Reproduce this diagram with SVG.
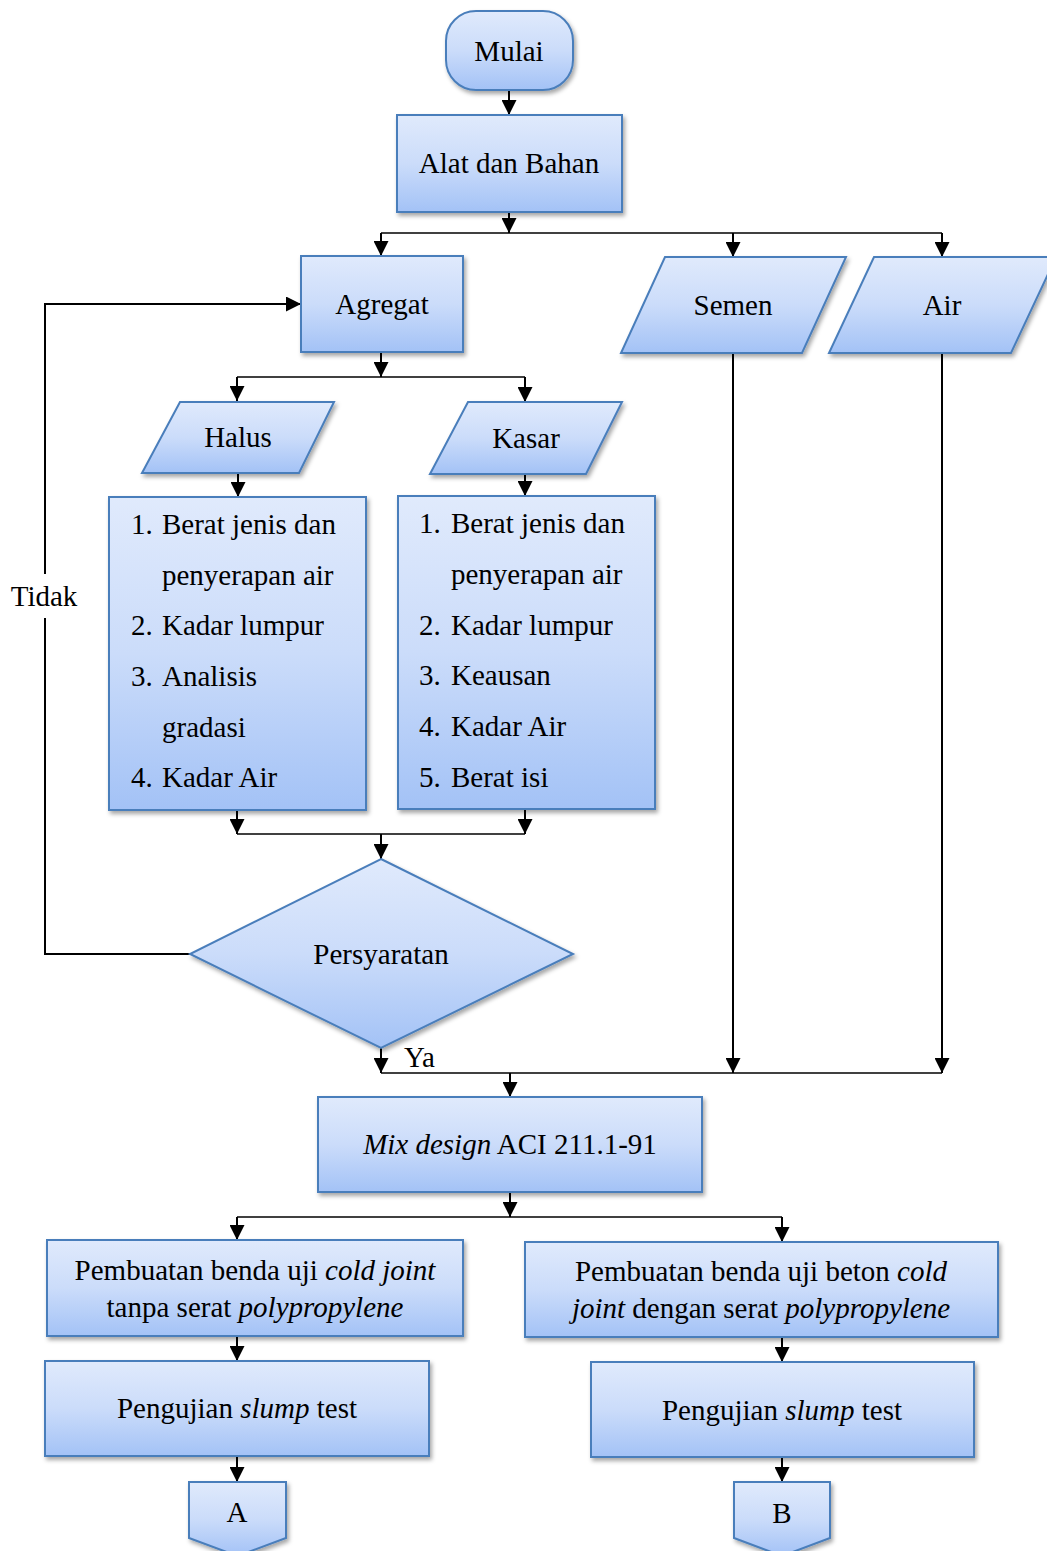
<svg xmlns="http://www.w3.org/2000/svg" width="1047" height="1551" viewBox="0 0 1047 1551">
<defs>
<linearGradient id="g" x1="0" y1="0" x2="0" y2="1">
<stop offset="0" stop-color="#e0eafc"/>
<stop offset="0.5" stop-color="#cbdcfa"/>
<stop offset="1" stop-color="#a3c2f6"/>
</linearGradient>
<filter id="sh" x="-10%" y="-10%" width="125%" height="130%">
<feDropShadow dx="2" dy="3" stdDeviation="2" flood-color="#000" flood-opacity="0.35"/>
</filter>
<marker id="ah" markerUnits="userSpaceOnUse" markerWidth="15" markerHeight="15" viewBox="0 0 15 15" refX="15" refY="7.5" orient="auto">
<path d="M0,0 L15,7.5 L0,15 z" fill="#000"/>
</marker>
<style>
.n{fill:url(#g);stroke:#4a7ebb;stroke-width:2;filter:url(#sh)}
.t{font-family:"Liberation Serif","Times New Roman",serif;font-size:29px;fill:#000}
.c{text-anchor:middle}
.i{font-style:italic}
.l{fill:none;stroke:#000;stroke-width:1.5}
.a{fill:none;stroke:#000;stroke-width:2;marker-end:url(#ah)}
</style>
</defs>

<g id="connectors">
<line class="a" x1="509" y1="90" x2="509" y2="115"/>
<line class="a" x1="509" y1="212" x2="509" y2="233"/>
<line class="l" x1="381" y1="233" x2="942" y2="233"/>
<line class="a" x1="381" y1="233" x2="381" y2="256"/>
<line class="a" x1="733" y1="233" x2="733" y2="257"/>
<line class="a" x1="942" y1="233" x2="942" y2="257"/>
<line class="a" x1="381" y1="352" x2="381" y2="377"/>
<line class="l" x1="237" y1="377" x2="525" y2="377"/>
<line class="a" x1="237" y1="377" x2="237" y2="401"/>
<line class="a" x1="525" y1="377" x2="525" y2="402"/>
<line class="a" x1="238" y1="473" x2="238" y2="497"/>
<line class="a" x1="525" y1="474" x2="525" y2="496"/>
<line class="a" x1="237" y1="810" x2="237" y2="834"/>
<line class="a" x1="525" y1="809" x2="525" y2="834"/>
<line class="l" x1="237" y1="834" x2="525" y2="834"/>
<line class="a" x1="381" y1="834" x2="381" y2="859"/>
<polyline class="a" points="190,954 45,954 45,304 301,304"/>
<line class="a" x1="381" y1="1048" x2="381" y2="1073"/>
<line class="a" x1="733" y1="353" x2="733" y2="1073"/>
<line class="a" x1="942" y1="353" x2="942" y2="1073"/>
<line class="l" x1="381" y1="1073" x2="942" y2="1073"/>
<line class="a" x1="510" y1="1073" x2="510" y2="1097"/>
<line class="a" x1="510" y1="1192" x2="510" y2="1217"/>
<line class="l" x1="237" y1="1217" x2="782" y2="1217"/>
<line class="a" x1="237" y1="1217" x2="237" y2="1240"/>
<line class="a" x1="782" y1="1217" x2="782" y2="1242"/>
<line class="a" x1="237" y1="1336" x2="237" y2="1361"/>
<line class="a" x1="782" y1="1337" x2="782" y2="1362"/>
<line class="a" x1="237" y1="1456" x2="237" y2="1482"/>
<line class="a" x1="782" y1="1457" x2="782" y2="1482"/>
<rect x="8" y="574" width="74" height="44" fill="#fff"/>
<text class="t c" x="44" y="606">Tidak</text>
<text class="t" x="404" y="1067">Ya</text>
</g>

<g id="mulai">
<rect class="n" x="446" y="11" width="127" height="79" rx="30" ry="30"/>
<text class="t c" x="509" y="61">Mulai</text>
</g>

<g id="alat">
<rect class="n" x="397" y="115" width="225" height="97"/>
<text class="t c" x="509" y="173">Alat dan Bahan</text>
</g>

<g id="agregat">
<rect class="n" x="301" y="256" width="162" height="96"/>
<text class="t c" x="382" y="314">Agregat</text>
</g>

<g id="semen">
<polygon class="n" points="665,257 846,257 802,353 621,353"/>
<text class="t c" x="733" y="315">Semen</text>
</g>

<g id="air">
<polygon class="n" points="874,257 1056,257 1011,353 829,353"/>
<text class="t c" x="942" y="315">Air</text>
</g>

<g id="halus">
<polygon class="n" points="180,402 334,402 299,473 142,473"/>
<text class="t c" x="238" y="447">Halus</text>
</g>

<g id="kasar">
<polygon class="n" points="468,402 622,402 586,474 430,474"/>
<text class="t c" x="526" y="448">Kasar</text>
</g>

<g id="uji-halus">
<rect class="n" x="109" y="497" width="257" height="313"/>
<text class="t" x="131" y="534">1.</text><text class="t" x="162" y="534">Berat jenis dan</text>
<text class="t" x="162" y="585">penyerapan air</text>
<text class="t" x="131" y="635">2.</text><text class="t" x="162" y="635">Kadar lumpur</text>
<text class="t" x="131" y="686">3.</text><text class="t" x="162" y="686">Analisis</text>
<text class="t" x="162" y="737">gradasi</text>
<text class="t" x="131" y="787">4.</text><text class="t" x="162" y="787">Kadar Air</text>
</g>

<g id="uji-kasar">
<rect class="n" x="398" y="496" width="257" height="313"/>
<text class="t" x="419" y="533">1.</text><text class="t" x="451" y="533">Berat jenis dan</text>
<text class="t" x="451" y="584">penyerapan air</text>
<text class="t" x="419" y="635">2.</text><text class="t" x="451" y="635">Kadar lumpur</text>
<text class="t" x="419" y="685">3.</text><text class="t" x="451" y="685">Keausan</text>
<text class="t" x="419" y="736">4.</text><text class="t" x="451" y="736">Kadar Air</text>
<text class="t" x="419" y="787">5.</text><text class="t" x="451" y="787">Berat isi</text>
</g>

<g id="persyaratan">
<polygon class="n" points="381,859 573,954 381,1048 190,954"/>
<text class="t c" x="381" y="964">Persyaratan</text>
</g>

<g id="mixdesign">
<rect class="n" x="318" y="1097" width="384" height="95"/>
<text class="t c" x="510" y="1154"><tspan class="i">Mix design</tspan> ACI 211.1-91</text>
</g>

<g id="pembuatan-tanpa">
<rect class="n" x="47" y="1240" width="416" height="96"/>
<text class="t c" x="255" y="1280">Pembuatan benda uji <tspan class="i">cold joint</tspan></text>
<text class="t c" x="255" y="1317">tanpa serat <tspan class="i">polypropylene</tspan></text>
</g>

<g id="pembuatan-dengan">
<rect class="n" x="525" y="1242" width="473" height="95"/>
<text class="t c" x="761" y="1281">Pembuatan benda uji beton <tspan class="i">cold</tspan></text>
<text class="t c" x="761" y="1318"><tspan class="i">joint</tspan> dengan serat <tspan class="i">polypropylene</tspan></text>
</g>

<g id="slump-a">
<rect class="n" x="45" y="1361" width="384" height="95"/>
<text class="t c" x="237" y="1418">Pengujian <tspan class="i">slump</tspan> test</text>
</g>

<g id="slump-b">
<rect class="n" x="591" y="1362" width="383" height="95"/>
<text class="t c" x="782" y="1420">Pengujian <tspan class="i">slump</tspan> test</text>
</g>

<g id="conn-a">
<polygon class="n" points="189,1482 286,1482 286,1538 237.5,1556 189,1538"/>
<text class="t c" x="237" y="1522">A</text>
</g>

<g id="conn-b">
<polygon class="n" points="734,1482 830,1482 830,1538 782,1556 734,1538"/>
<text class="t c" x="782" y="1523">B</text>
</g>
</svg>
